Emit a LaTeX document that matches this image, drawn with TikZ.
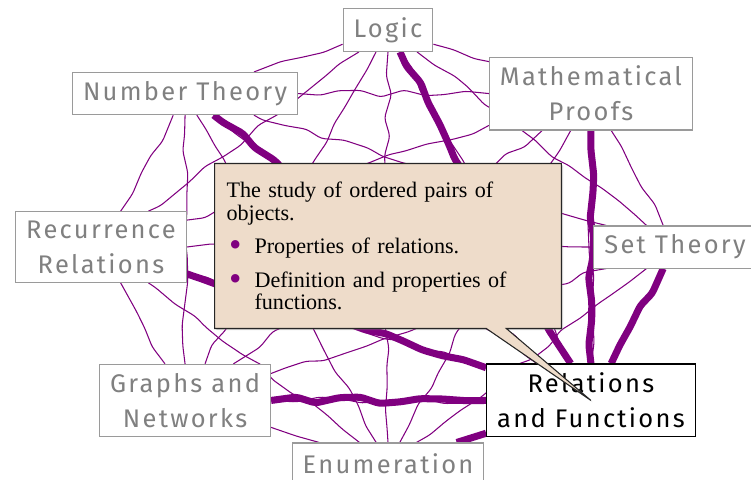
\documentclass[tikz,border=0pt]{standalone}
\usepackage{fontspec}
\usetikzlibrary{decorations.pathmorphing,shapes.callouts,shadows,backgrounds}
\newfontfamily\topicfont[LetterSpace=9]{Fira Sans}
\newfontfamily\tipfont[WordSpace=1.6]{Liberation Serif}
\definecolor{linkpurple}{HTML}{800080}
\definecolor{topicgray}{HTML}{808080}
\definecolor{framegray}{HTML}{9A9A9A}
\definecolor{tipbg}{HTML}{EEDCCA}
\newcommand{\tipbullet}{\textcolor{linkpurple}{\raisebox{-0.3ex}{\scalebox{1.6}{\textbullet}}}}

\begin{document}
\begin{tikzpicture}[
    x=0.02cm, y=-0.02cm,
    topic/.style={draw=framegray, fill=white, line width=0.6pt, align=center, inner xsep=6pt, inner ysep=5pt, minimum height=0.84cm, font=\topicfont\fontsize{14.5}{20}\selectfont, text=topicgray},
    current/.style={topic, draw=black, text=black},
    link/.style={draw=linkpurple, line width=0.6pt, decorate, decoration={random steps, segment length=12pt, amplitude=2pt}, rounded corners=2pt},
    strong/.style={link, line width=4pt, line join=round},
    tip/.style={rectangle callout, draw=black!85, fill=tipbg, line width=0.6pt, text width=6.46cm, inner sep=0.24cm, minimum height=3.3cm, align=left, font=\tipfont\fontsize{12.6}{13}\selectfont, callout pointer width=0.4cm, drop shadow={shadow xshift=1pt, shadow yshift=-1pt, opacity=0.35}},
]
\useasboundingbox (0,0) rectangle (751,480);
\pgfmathsetseed{7}

% topics round the ellipse
\foreach \name/\ang/\txt in {logic/90/Logic, proofs/45/{Mathematical\\Proofs}, settheory/0/Set Theory, enum/-90/Enumeration, graphs/-135/{Graphs and\\Networks}, recur/180/{Recurrence\\Relations}, numtheory/135/Number Theory}
  \node[topic] (\name) at ({388+287*cos(\ang)}, {247-217*sin(\ang)}) {\txt};
\node[current] (relfun) at ({388+287*cos(-45)}, {247-217*sin(-45)}) {Relations\\and Functions};

\begin{pgfonlayer}{background}
\foreach \u [count=\i] in {logic,proofs,settheory,relfun,enum,graphs,recur,numtheory}
  \foreach \v [count=\j] in {logic,proofs,settheory,relfun,enum,graphs,recur,numtheory}
    {\ifnum\j>\i \draw[link] (\u) -- (\v); \fi}
\foreach \v in {logic,proofs,settheory,enum,graphs,recur,numtheory}
  \draw[strong] (relfun) -- (\v);
\end{pgfonlayer}

% description of the current topic
\node[tip, callout absolute pointer=(relfun.center)] (summary) at (388,246) {%
\hyphenpenalty=10000\relax
The study of ordered pairs of objects.
\begin{list}{\tipbullet}{\leftmargin=0.56cm \labelwidth=0.3cm \labelsep=0.26cm \topsep=6pt \partopsep=0pt \itemsep=6pt \parsep=0pt}
\item Properties of relations.
\item Definition and properties of functions.
\end{list}};
\end{tikzpicture}
\end{document}
